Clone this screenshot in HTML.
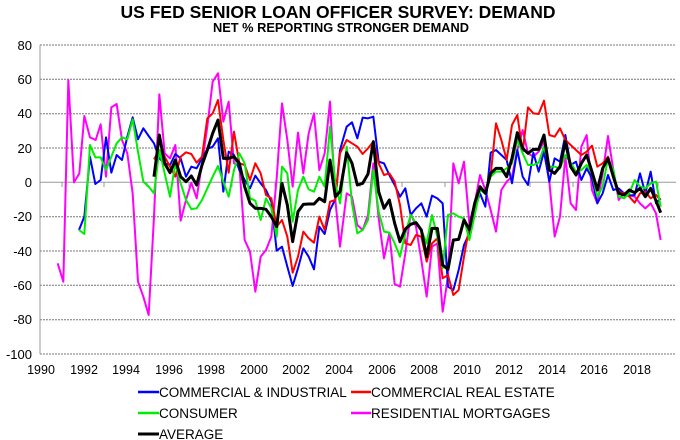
<!DOCTYPE html>
<html><head><meta charset="utf-8"><style>
body{margin:0;background:#fff;}
svg{display:block;font-family:"Liberation Sans",Arial,sans-serif;}
polyline{fill:none;vector-effect:non-scaling-stroke;stroke-linejoin:round;}
</style></head><body>
<svg width="680" height="440" viewBox="0 0 680 440">
<text x="338" y="18" text-anchor="middle" font-size="17.5" font-weight="bold">US FED SENIOR LOAN OFFICER SURVEY: DEMAND</text>
<text x="341" y="32" text-anchor="middle" font-size="12.8" font-weight="bold">NET % REPORTING STRONGER DEMAND</text>
<g stroke="#777" stroke-width="1" stroke-dasharray="2,1">
<line x1="40" x2="676" y1="45" y2="45"/><line x1="40" x2="676" y1="79.3" y2="79.3"/>
<line x1="40" x2="676" y1="113.7" y2="113.7"/><line x1="40" x2="676" y1="148" y2="148"/>
<line x1="40" x2="676" y1="216.7" y2="216.7"/><line x1="40" x2="676" y1="251" y2="251"/>
<line x1="40" x2="676" y1="285.3" y2="285.3"/><line x1="40" x2="676" y1="319.7" y2="319.7"/>
<line x1="40" x2="676" y1="354" y2="354"/>
</g>
<line x1="40" x2="676" y1="182.3" y2="182.3" stroke="#999"/>
<line x1="40" x2="40" y1="45" y2="354" stroke="#999"/>
<g stroke="#999">
<line x1="62" x2="62" y1="182" y2="187"/><line x1="104" x2="104" y1="182" y2="187"/><line x1="147" x2="147" y1="182" y2="187"/><line x1="189" x2="189" y1="182" y2="187"/><line x1="232" x2="232" y1="182" y2="187"/><line x1="275" x2="275" y1="182" y2="187"/><line x1="317" x2="317" y1="182" y2="187"/><line x1="360" x2="360" y1="182" y2="187"/><line x1="402" x2="402" y1="182" y2="187"/><line x1="445" x2="445" y1="182" y2="187"/><line x1="487" x2="487" y1="182" y2="187"/><line x1="530" x2="530" y1="182" y2="187"/><line x1="573" x2="573" y1="182" y2="187"/><line x1="615" x2="615" y1="182" y2="187"/><line x1="658" x2="658" y1="182" y2="187"/>
</g>
<g font-size="13" text-anchor="end">
<text x="32" y="50">80</text><text x="32" y="84">60</text><text x="32" y="118">40</text><text x="32" y="153">20</text><text x="32" y="187">0</text><text x="32" y="221">-20</text><text x="32" y="256">-40</text><text x="32" y="290">-60</text><text x="32" y="324">-80</text><text x="32" y="359">-100</text>
</g>
<g font-size="12.5" text-anchor="middle">
<text x="41" y="374">1990</text><text x="84" y="374">1992</text><text x="126" y="374">1994</text><text x="169" y="374">1996</text><text x="211" y="374">1998</text><text x="254" y="374">2000</text><text x="296" y="374">2002</text><text x="339" y="374">2004</text><text x="382" y="374">2006</text><text x="424" y="374">2008</text><text x="467" y="374">2010</text><text x="509" y="374">2012</text><text x="552" y="374">2014</text><text x="594" y="374">2016</text><text x="637" y="374">2018</text>
</g>
<g transform="translate(0,30) scale(0.333333)">
<polyline stroke="#ff00ff" stroke-width="2" points="173,700 190,755 205,150 222,457 238,430 253,258 270,322 287,330 302,283 318,440 334,232 350,222 366,330 382,370 398,490 414,755 430,800 446,855 462,560 478,193 494,370 510,385 526,345 542,572 558,510 574,458 590,505 606,400 622,290 638,155 654,130 670,275 686,215 702,400 718,405 734,630 750,665 766,785 782,680 798,660 814,620 830,445 846,220 862,330 878,470 894,308 910,430 926,310 942,250 958,420 974,370 990,215 1006,510 1020,650 1040,490 1056,500 1072,585 1088,600 1104,555 1120,400 1136,565 1152,685 1168,610 1184,762 1200,770 1216,670 1232,550 1248,590 1264,690 1280,800 1296,650 1312,640 1328,845 1344,740 1360,400 1376,460 1392,395 1408,580 1424,520 1440,435 1456,480 1472,540 1488,605 1504,480 1520,455 1536,440 1552,360 1568,300 1584,370 1600,380 1616,365 1632,335 1648,455 1664,620 1680,560 1696,380 1712,520 1728,540 1744,350 1760,315 1776,480 1792,520 1808,430 1824,318 1840,420 1856,510 1872,490 1888,495 1904,500 1920,520 1936,535 1952,520 1968,550 1982,630"/>
<polyline stroke="#0000ff" stroke-width="2" points="237,600 253,560 270,380 286,462 302,450 318,322 334,428 350,375 366,390 382,320 398,262 414,328 430,295 446,318 462,340 478,385 494,400 510,405 526,372 542,385 558,440 574,410 590,415 606,385 622,357 638,350 654,325 670,485 686,365 702,375 718,420 734,450 750,475 766,437 782,460 798,480 814,515 830,662 846,650 862,710 878,768 894,715 910,655 926,680 942,718 958,590 974,612 990,540 1006,508 1020,360 1040,290 1056,277 1072,325 1088,263 1104,265 1120,260 1136,395 1152,400 1168,435 1184,465 1200,500 1216,475 1232,555 1248,535 1264,520 1280,560 1296,497 1312,505 1328,520 1344,770 1360,780 1376,720 1392,645 1408,610 1424,540 1440,490 1456,530 1472,368 1488,360 1504,375 1520,390 1536,460 1552,360 1568,440 1584,465 1600,368 1616,425 1632,365 1648,455 1664,385 1680,395 1696,315 1712,405 1728,395 1744,450 1760,415 1776,445 1792,520 1808,490 1824,435 1840,480 1856,475 1872,490 1888,497 1904,495 1920,430 1936,490 1952,425 1968,520 1982,505"/>
<polyline stroke="#ff0000" stroke-width="2" points="462,388 478,360 494,380 510,410 526,440 542,380 558,367 574,372 590,398 606,380 622,265 638,250 654,210 670,330 686,428 702,305 718,400 734,405 750,450 766,400 782,430 798,495 814,505 830,590 846,570 862,620 878,728 894,680 910,605 926,625 942,638 958,560 974,600 990,515 1006,510 1020,370 1040,330 1056,340 1072,350 1088,372 1104,355 1120,335 1136,400 1152,435 1168,430 1184,455 1200,525 1216,640 1232,645 1248,615 1264,620 1280,695 1296,640 1312,625 1328,745 1344,735 1360,795 1376,780 1392,680 1408,590 1424,520 1440,470 1456,490 1472,435 1488,280 1504,330 1520,390 1536,285 1552,255 1568,365 1584,232 1600,250 1616,252 1632,212 1648,315 1664,320 1680,295 1696,330 1712,345 1728,360 1744,375 1760,365 1776,347 1792,410 1808,400 1824,380 1840,435 1856,485 1872,490 1888,500 1904,518 1920,490 1936,485 1952,505 1968,495 1982,510"/>
<polyline stroke="#00ee00" stroke-width="2" points="237,600 253,612 270,345 286,382 302,382 318,420 334,380 350,340 366,322 382,328 398,268 414,365 430,455 446,470 462,490 478,360 494,430 510,500 526,400 542,460 558,510 574,537 590,535 606,510 622,475 638,440 654,408 670,455 686,500 702,420 718,370 734,400 750,505 766,512 782,570 798,505 814,535 830,620 846,410 862,430 878,575 894,480 910,440 926,478 942,485 958,440 974,470 990,290 1006,460 1020,520 1040,350 1056,520 1072,610 1088,600 1104,570 1120,420 1136,545 1152,605 1168,608 1184,640 1200,680 1216,610 1232,555 1248,580 1264,600 1280,640 1296,555 1312,620 1328,715 1344,555 1360,550 1376,560 1392,565 1408,630 1424,555 1440,480 1456,490 1472,440 1488,425 1504,425 1520,415 1536,400 1552,330 1568,370 1584,405 1600,405 1616,398 1632,350 1648,410 1664,410 1680,415 1696,375 1712,398 1728,425 1744,420 1760,405 1776,430 1792,500 1808,470 1824,385 1840,420 1856,500 1872,505 1888,490 1904,450 1920,470 1936,475 1952,460 1968,455 1982,530"/>
<polyline stroke="#000" stroke-width="3" points="462,440 478,315 494,400 510,428 526,390 542,440 558,455 574,438 590,465 606,405 622,360 638,310 654,270 670,385 686,385 702,380 718,400 734,470 750,520 766,535 782,535 798,538 814,560 830,590 846,460 862,525 878,635 894,545 910,523 926,522 942,522 958,505 974,515 990,390 1006,500 1020,485 1040,368 1056,400 1072,465 1088,460 1104,432 1120,335 1136,485 1152,535 1168,510 1184,580 1200,635 1216,597 1232,583 1248,578 1264,600 1280,680 1296,595 1312,595 1328,705 1344,718 1360,630 1376,628 1392,570 1408,598 1424,520 1440,470 1456,490 1472,430 1488,415 1504,415 1520,440 1536,385 1552,308 1568,355 1584,370 1600,358 1616,358 1632,315 1648,420 1664,430 1680,410 1696,335 1712,410 1728,435 1744,400 1760,375 1776,425 1792,480 1808,415 1824,385 1840,440 1856,490 1872,495 1888,480 1904,488 1920,475 1936,500 1952,475 1968,512 1982,548"/>
</g>
<g font-size="13.5">
<line x1="138" x2="159" y1="392" y2="392" stroke="#0000ff" stroke-width="2.5"/><text x="159" y="397">COMMERCIAL &amp; INDUSTRIAL</text>
<line x1="351" x2="371" y1="392" y2="392" stroke="#ff0000" stroke-width="2.5"/><text x="371" y="397">COMMERCIAL REAL ESTATE</text>
<line x1="138" x2="159" y1="413" y2="413" stroke="#00ee00" stroke-width="2.5"/><text x="159" y="418">CONSUMER</text>
<line x1="351" x2="371" y1="413" y2="413" stroke="#ff00ff" stroke-width="2.5"/><text x="371" y="418">RESIDENTIAL MORTGAGES</text>
<line x1="138" x2="159" y1="434" y2="434" stroke="#000" stroke-width="3"/><text x="159" y="439">AVERAGE</text>
</g>
</svg>
</body></html>
